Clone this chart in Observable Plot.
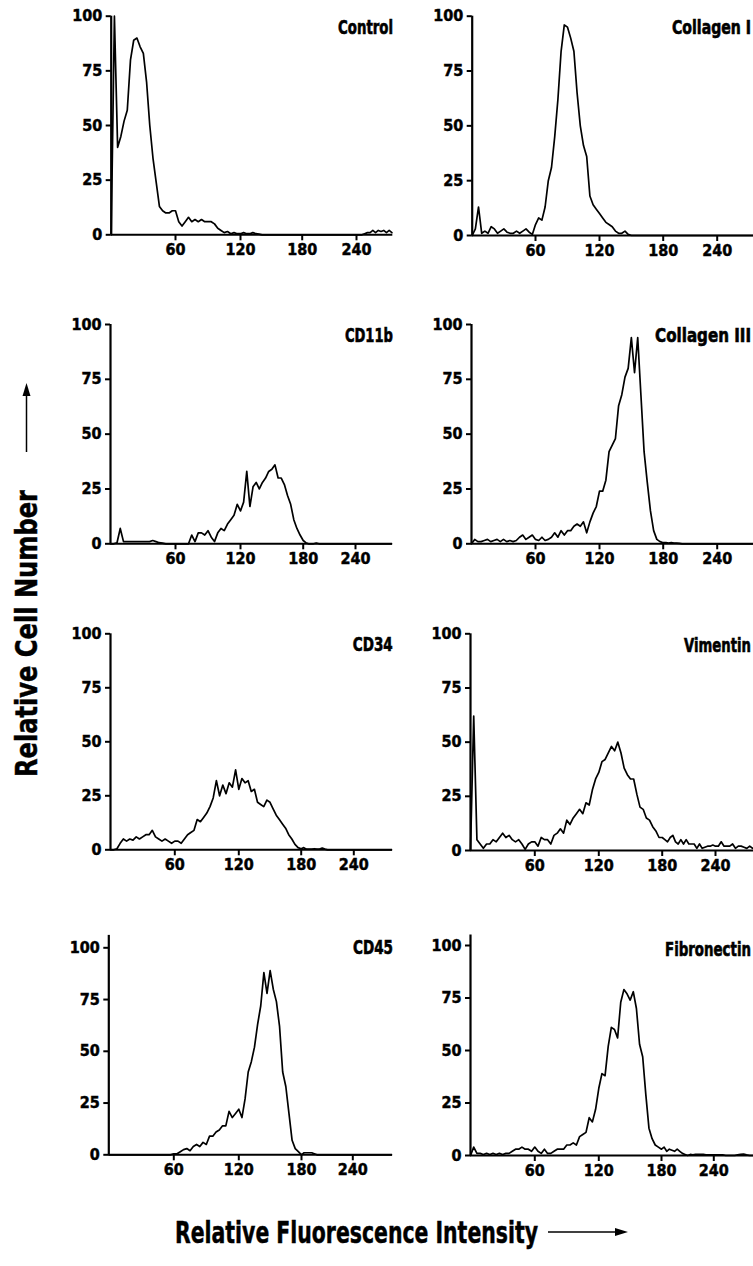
<!DOCTYPE html>
<html><head><meta charset="utf-8">
<script src="https://cdn.jsdelivr.net/npm/d3@7"></script>
<script src="https://cdn.jsdelivr.net/npm/@observablehq/plot@0.6"></script>
<style>
html,body{margin:0;padding:0;background:#fff;}
#fig{position:relative;width:753px;height:1266px;overflow:hidden;background:#fff;}
.panel{position:absolute;}
#titles{position:absolute;left:0;top:0;}
#fig svg text{stroke:#000;stroke-width:0.45px;}
#fig svg g[aria-label="text"] text{stroke-width:0.6px;}
#titles text{stroke-width:0.9px;}
</style></head><body><div id="fig"></div>
<script>
// ---------- data ----------
const channels = [0,3,6,9,12,15,18,21,24,27,30,33,36,39,42,45,48,51,54,57,60,63,66,69,72,75,78,81,84,87,90,93,96,99,102,105,108,111,114,117,120,123,126,129,132,135,138,141,144,147,150,153,156,159,162,165,168,171,174,177,180,183,186,189,192,195,198,201,204,207,210,213,216,219,222,225,228,231,234,237,240,243,246,249,252,255,258,261,264,267,270,273,276,279];

const control = [0,100,40,45,52,57,80,89,90,86,
  83,70,50,35,24,13,11,10,10,11,
  11,6,4,6,8,6,7,6,7,6,
  6,6,5,3,2,1,1.5,0.5,1,0.5,
  0.5,1,0.5,0.5,1,0.5,0.3,0,0,0,
  0,0,0,0,0,0,0,0,0,0,
  0,0,0,0,0,0,0,0,0,0,
  0,0,0,0,0,0,0,0,0,0,
  0,0,0,0.5,1,1,2,1,2,1.5,
  2,1,2,1];

const collagen1 = [0,3,13,1,2,1,4,3,1,2,
  3,1.5,1,1,2,1,2,3,1.5,0.5,
  5,8,7,13,25,31,45,62,84,96,
  95,90,84,65,50,41,36,18,14,12,
  10,8,6,5,4,2,1,1,2,0.5,
  0,0,0,0,0,0,0,0,0,0,
  0,0,0,0,0,0,0,0,0,0,
  0,0,0,0,0,0,0,0,0,0,
  0,0,0,0,0,0,0,0,0,0,
  0,0,0,0];

const cd11b = [0,0,0.5,7,1,1,1,1,1,1,
  1,1,1,1.5,1,0.5,0.3,0,0,0,
  0,0,0,0,0,4,1,5,5,4,
  6,3,1,5,7,6,9,11,13,18,
  15,19,33,17,26,28,25,28,30,33,
  34,36,30,30,27,22,18,11,7,4,
  1.5,0.5,0,0,0,0.3,0,0,0,0,
  0,0,0,0,0,0,0,0,0,0,
  0,0,0,0,0,0,0,0,0,0,
  0,0,0,0];

const collagen3 = [0,2,1,1,1.5,2,1,1.5,2,1,
  2,1,1.5,1,1.5,3,4,2,3,4,
  2,1.5,3,1.5,2,3,5,3,6,4,
  6,6,8,9,8,10,5,10,14,17,
  24,24,29,42,45,48,63,68,76,80,
  94,78,94,68,42,28,15,6,2,1,
  0.5,0.5,0.3,0.5,0.3,0.3,0.2,0,0,0,
  0,0,0,0,0,0,0,0,0,0,
  0,0,0,0,0,0,0,0,0,0,
  0,0,0,0];

const cd34 = [0,0,0.5,3,5,4,5,4.5,6,5,
  6,7,7,9,6,5,4,5,4,3,
  4,4,3,5,7,8,9,14,13,15,
  17,20,24,32,25,30,26,31,29,37,
  28,33,31,32,27,28,22,21,20,23,
  22,19,16,14,12,10,7,5,2.5,1,
  0.5,1,0.3,0.3,0.3,0.5,0.3,0.3,0.8,0.3,
  0,0,0,0,0,0,0,0,0,0,
  0,0,0,0,0,0,0,0,0,0,
  0,0,0,0];

const vimentin = [0,62,5,3,1,3,3,5,4,6,
  8,6,7,5,4,5,3,0.5,3,4,
  4,2,6,5,5,3,7,8,10,8,
  14,12,15,17,19,17,22,21,28,33,
  36,41,42,45,48,46,50,45,38,35,
  33,33,26,20,19,15,14,11,9,6,
  6,5,4,6,7,4,3,5,3,5,
  3,3,3,1,3,1,1.5,2,2,2.5,
  2,2,4,2,2,2,3,1,2,2,
  1.5,1,2,1];

const cd45 = [0,0,0,0,0,0,0,0,0,0,
  0,0,0,0,0,0,0,0,0,0,
  0.5,0.5,1.5,2.5,3,2,4,5,4,6,
  5,9,9,11,12,14,14,21,18,20,
  22,18,27,40,45,52,63,72,88,78,
  89,80,74,62,40,33,20,7,3,1.5,
  0,1,1,1,1,0.5,0,0,0,0,
  0,0,0,0,0,0,0,0,0,0,
  0,0,0,0,0,0,0,0,0,0,
  0,0,0,0];

const fibronectin = [0,4,1,1,0.5,1,0.5,1,0.5,1,
  0.5,1,1,2,3,3,4,3,3,2,
  4,2,1,3,1,1,2,3,3,3,
  5,5,6,5,9,10,11,18,16,22,
  32,39,38,52,61,60,56,73,79,77,
  74,78,70,53,47,29,13,8,5,4,
  3,4,2,3,2.5,2,3,2,1,0.5,
  0,0.5,0.3,0.5,0.5,0.5,0.5,0.3,0.3,0.3,
  0.3,0.3,0.3,0.3,0,0,0,0,0.3,0.5,
  0.7,0.3,0,0];

const panelNames = ["Control","Collagen I","CD11b","Collagen III","CD34","Vimentin","CD45","Fibronectin"];
const panelSeries = [control, collagen1, cd11b, collagen3, cd34, vimentin, cd45, fibronectin];
const yTickValues = [0,25,50,75,100];
const xTickValues = [60,120,180,240];
const xDomain = [0,60,120,180,240,280];
const yAxisTitle = "Relative Cell Number";
const xAxisTitle = "Relative Fluorescence Intensity";

// ---------- layout ----------
const NS = "http://www.w3.org/2000/svg";
const FONT = '"Liberation Sans Narrow","Arial Narrow","DejaVu Sans Condensed","Liberation Sans",sans-serif';
const colW = [340, 333], rowH = [262, 266, 262, 272], colLeft = [60, 420], rowTop = [0, 300, 615, 920];
const labelRight = [333, 331];
const layout = [
  {col:0,row:0, xr:[50.7,115,180,241.7,296,332.3], yr:[234.3,15.7], yTop:100, labelY:33, labelW:55},
  {col:1,row:0, xr:[51.7,115,179,242.7,296.7,333], yr:[235,15.7], yTop:100, labelY:33, labelW:79},
  {col:0,row:1, xr:[50,115,180,242.7,295,332], yr:[243.3,24], yTop:100, labelY:41.7, labelW:48},
  {col:1,row:1, xr:[51,115,179,242.7,296.7,333], yr:[243.3,24], yTop:100, labelY:41.7, labelW:96},
  {col:0,row:2, xr:[50,114.3,178.3,240.7,293.3,332], yr:[234.3,18.3], yTop:100, labelY:35, labelW:40},
  {col:1,row:2, xr:[50,114.3,178.3,241.7,295,333], yr:[235,18.3], yTop:100, labelY:36, labelW:67},
  {col:0,row:3, xr:[48.3,113.3,178.3,241,292.3,332], yr:[234.3,27.3], yTop:106, labelY:33.3, labelW:40},
  {col:1,row:3, xr:[50,114.3,178.3,241,293.3,333], yr:[235,25], yTop:105, labelY:35, labelW:86}
];

const fig = document.getElementById("fig");

panelNames.forEach((name, i) => {
  const L = layout[i];
  const w = colW[L.col], h = rowH[L.row];
  const data = channels.map((c, k) => ({c, v: panelSeries[i][k]}));
  const svg = Plot.plot({
    width: w, height: h,
    marginLeft: L.xr[0], marginRight: w - L.xr[5], marginTop: L.yr[1], marginBottom: h - L.yr[0],
    x: {type: "linear", domain: xDomain, range: L.xr, label: null},
    y: {type: "linear", domain: [0, 100], range: L.yr, label: null},
    style: {fontFamily: FONT, fontWeight: "bold", fontSize: "16px", color: "#000", background: "transparent", overflow: "visible"},
    marks: [
      Plot.line(data, {x: "c", y: "v", stroke: "#000", strokeWidth: 1.7}),
      Plot.ruleY([0], {x1: 0, x2: 280, stroke: "#000", strokeWidth: 2}),
      Plot.ruleX([0], {y1: 0, y2: L.yTop, stroke: "#000", strokeWidth: 2.2}),
      Plot.axisY(yTickValues, {tickSize: 5, tickPadding: 4, strokeWidth: 2, fontSize: 16, fontWeight: "bold", label: null, tickFormat: d => String(d)}),
      Plot.axisX(xTickValues, {tickSize: 6, tickPadding: 3, strokeWidth: 2, fontSize: 16, fontWeight: "bold", label: null, tickFormat: d => String(d)}),
      Plot.text([name], {frameAnchor: "top-right", lineAnchor: "bottom", dy: L.labelY - L.yr[1], fontSize: 19, fontWeight: "bold", fill: "#000"})
    ]
  });
  const div = document.createElement("div");
  div.className = "panel";
  div.style.left = colLeft[L.col] + "px";
  div.style.top = rowTop[L.row] + "px";
  div.appendChild(svg);
  fig.appendChild(div);
  // condense the panel label horizontally to the width of the original lettering
  svg.querySelectorAll('g[aria-label="text"] text').forEach(el => {
    const g = document.createElementNS(NS, "g");
    el.parentNode.insertBefore(g, el);
    g.appendChild(el);
    const r0 = el.getBoundingClientRect();
    const sx = L.labelW / r0.width;
    g.setAttribute("transform", `scale(${sx},1)`);
    const svgRect = svg.getBoundingClientRect();
    const r1 = el.getBoundingClientRect();
    const shift = labelRight[L.col] - (r1.right - svgRect.left);
    g.setAttribute("transform", `translate(${shift},0) scale(${sx},1)`);
  });
});

// ---------- axis titles with arrows ----------
const t = document.createElementNS(NS, "svg");
t.setAttribute("id", "titles");
t.setAttribute("width", 753); t.setAttribute("height", 1266);
t.setAttribute("style", "font-family:" + FONT.replace(/"/g, "'") + ";font-weight:bold;");
t.innerHTML = `
  <text transform="translate(37,633.5) rotate(-90)" text-anchor="middle" font-size="30" textLength="287" lengthAdjust="spacingAndGlyphs" fill="#000">${yAxisTitle}</text>
  <line x1="26.5" y1="452" x2="26.5" y2="394" stroke="#000" stroke-width="1.5"/>
  <polygon points="26.5,383 22.5,396 30.5,396" fill="#000"/>
  <text x="175" y="1243" font-size="30" textLength="363" lengthAdjust="spacingAndGlyphs" fill="#000">${xAxisTitle}</text>
  <line x1="548" y1="1232" x2="617" y2="1232" stroke="#000" stroke-width="1.5"/>
  <polygon points="628,1232 615,1228 615,1236" fill="#000"/>
`;
fig.appendChild(t);
</script>
</body></html>
